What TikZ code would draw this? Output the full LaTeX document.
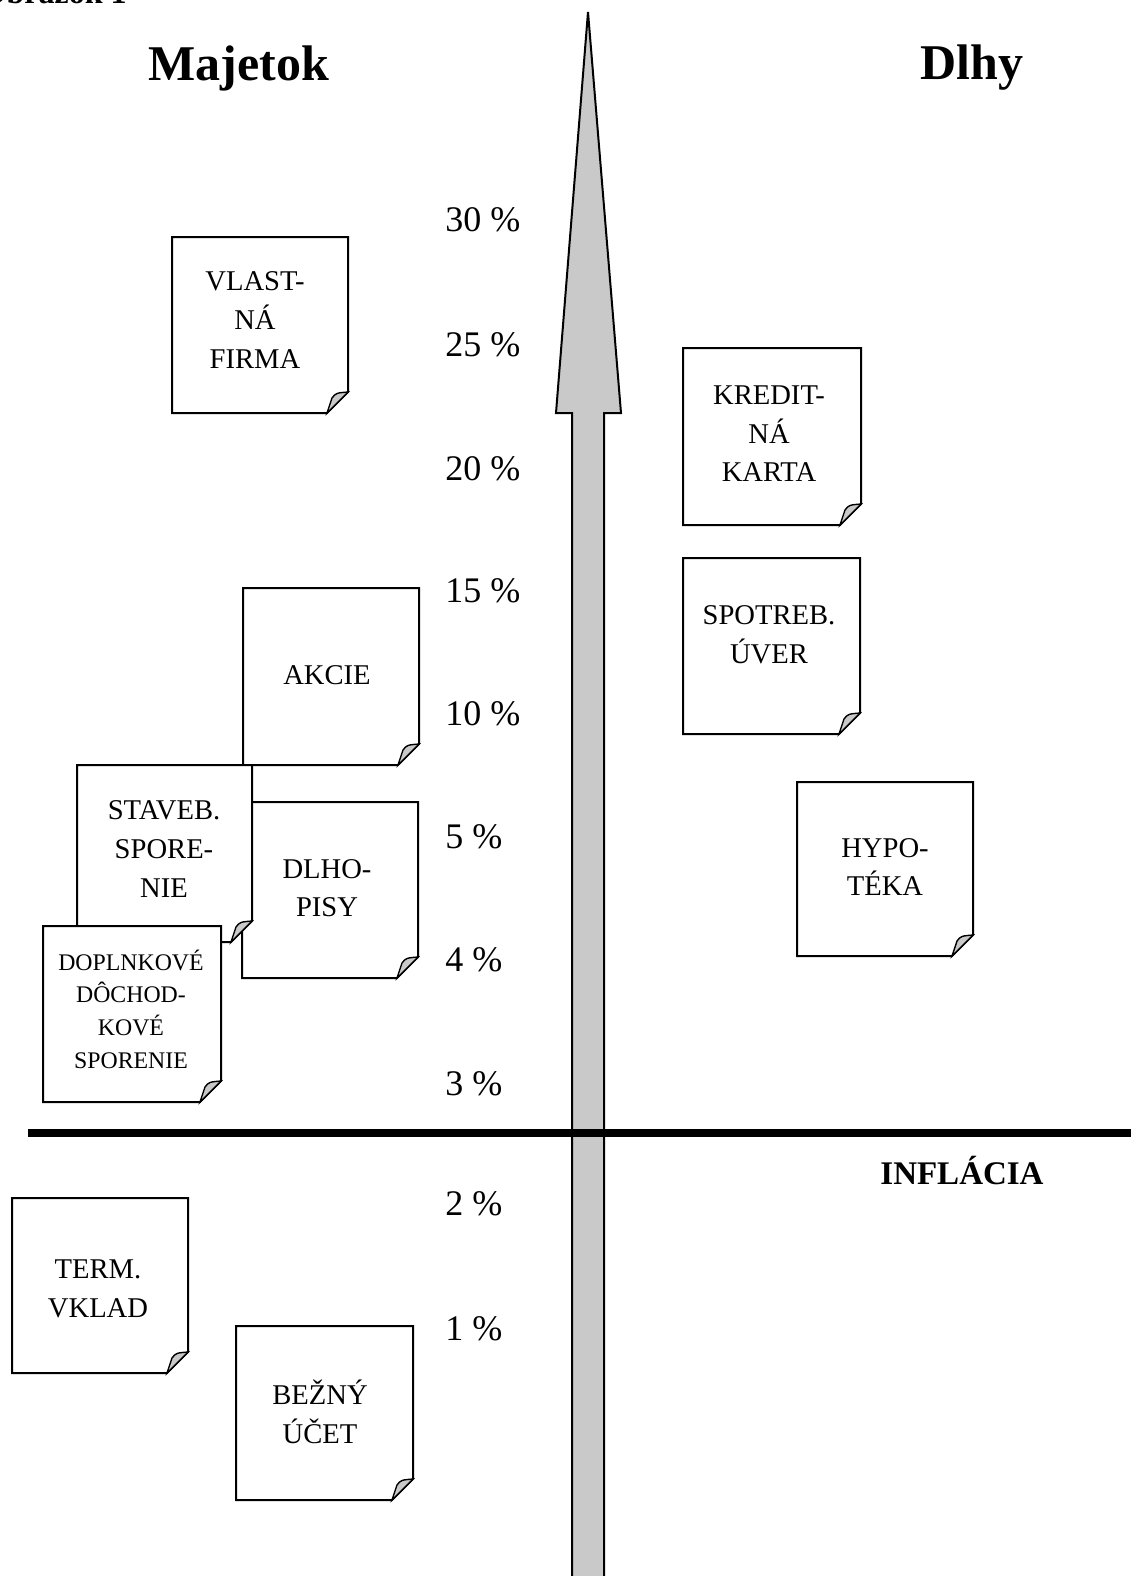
\documentclass[tikz,border=0pt]{standalone}
\usepackage{fontspec}
\setmainfont{Liberation Serif}
\begin{document}
\begin{tikzpicture}[x=0.5pt,y=-0.5pt,line join=miter]
\tikzset{
  cardtext/.style={align=center,font=\fontsize{14.3}{19.3}\selectfont,inner sep=0pt},
  smalltext/.style={align=center,font=\fontsize{11.9}{16.3}\selectfont,inner sep=0pt},
  pct/.style={anchor=west,font=\fontsize{18}{20}\selectfont,inner sep=0pt},
  titletext/.style={font=\fontsize{25}{28}\selectfont\bfseries,inner sep=0pt},
  cardedge/.style={draw=black,line width=1pt,fill=white},
  flap/.style={draw=black,line width=0.7pt,fill=black!21},
  arrowbody/.style={draw=black,line width=1pt,fill=black!21},
}
\newcommand\notecard[4]{%
  \draw[cardedge] (#1,#2) -- (#3,#2) -- (#3,#4-21) -- (#3-21,#4) -- (#1,#4) -- cycle;
  \draw[flap] (#3-21,#4) -- (#3-16,#4-15) .. controls (#3-12,#4-20) .. (#3,#4-21) -- cycle;
}
\clip (0,0) rectangle (1131,1576);
% heading (cut by the page edge)
\node[anchor=base east,font=\fontsize{16}{18}\selectfont\bfseries,inner sep=0pt] (fig) at (127,3) {Obrázok 1};
% arrow
\draw[arrowbody] (572,1600) -- (572,413) -- (556,413) -- (588,12) -- (621,413) -- (604,413) -- (604,1600) -- cycle;
\coordinate (axisleft) at (28,1133);
\coordinate (axisright) at (1140,1133);
\draw[line width=4pt] (axisleft) -- (axisright);
% titles
\node[titletext] (majetok) at (239,68) {Majetok};
\node[titletext] (dlhy) at (972,68) {Dlhy};
\node[font=\fontsize{16.5}{18}\selectfont\bfseries,inner sep=0pt] (infl) at (962,1170) {INFLÁCIA};
% percentages
\node[pct] (p30) at (445,220) {30 \%};
\node[pct] (p25) at (445,345) {25 \%};
\node[pct] (p20) at (445,469) {20 \%};
\node[pct] (p15) at (445,591) {15 \%};
\node[pct] (p10) at (445,714) {10 \%};
\node[pct] (p5) at (445,837) {5 \%};
\node[pct] (p4) at (445,960) {4 \%};
\node[pct] (p3) at (445,1084) {3 \%};
\node[pct] (p2) at (445,1204) {2 \%};
\node[pct] (p1) at (445,1329) {1 \%};
% cards
\notecard{172}{237}{348}{413}
\node[cardtext] (firma) at (255,320) {VLAST-\\NÁ\\FIRMA};
\notecard{683}{348}{861}{525}
\node[cardtext] (karta) at (769,434) {KREDIT-\\NÁ\\KARTA};
\notecard{683}{558}{860}{734}
\node[cardtext] (uver) at (769,635) {SPOTREB.\\ÚVER};
\notecard{797}{782}{973}{956}
\node[cardtext] (hypo) at (885,867) {HYPO-\\TÉKA};
\notecard{243}{588}{419}{765}
\node[cardtext] (akcie) at (327,675) {AKCIE};
\notecard{242}{802}{418}{978}
\node[cardtext] (dlhopisy) at (327,888) {DLHO-\\PISY};
\notecard{77}{765}{252}{942}
\node[cardtext] (staveb) at (164,849) {STAVEB.\\SPORE-\\NIE};
\notecard{43}{926}{221}{1102}
\node[smalltext] (dds) at (131,1009) {DOPLNKOVÉ\\DÔCHOD-\\KOVÉ\\SPORENIE};
\notecard{12}{1198}{188}{1373}
\node[cardtext] (term) at (98,1289) {TERM.\\VKLAD};
\notecard{236}{1326}{413}{1500}
\node[cardtext] (bezny) at (320,1412) {BEŽNÝ\\ÚČET};
\end{tikzpicture}
\end{document}
